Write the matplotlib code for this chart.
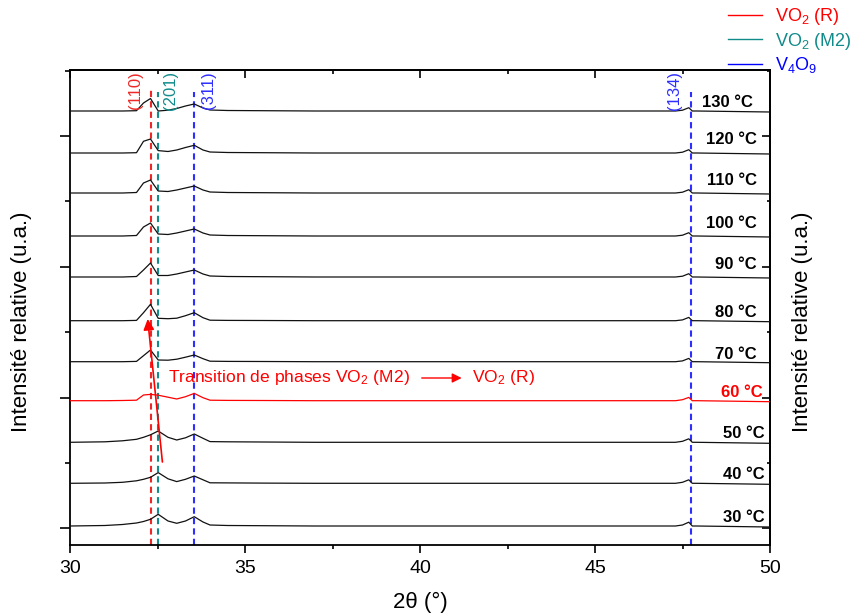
import matplotlib
matplotlib.use('Agg')
import matplotlib.pyplot as plt
from matplotlib.ticker import MultipleLocator, FixedLocator, NullFormatter
from matplotlib.lines import Line2D

plt.rcParams['font.family'] = ['Liberation Sans', 'DejaVu Sans']
plt.rcParams['mathtext.default'] = 'regular'

# ---------------- data ----------------
two_theta = [30.0, 31.0, 31.5, 31.9, 32.1, 32.3, 32.52, 32.8, 33.05, 33.3, 33.55,
             33.8, 34.0, 34.5, 35.5, 37.0, 40.0, 45.0, 47.3, 47.5, 47.68, 47.78, 47.9, 50.0]

temperatures = ["30 °C", "40 °C", "50 °C", "60 °C", "70 °C", "80 °C",
                "90 °C", "100 °C", "110 °C", "120 °C", "130 °C"]
offsets = [19, 61.7, 102.7, 144.3, 183.3, 224.3, 268, 309, 352, 392, 434]

i_30 = [0, 0.5, 1.5, 3.0, 4.5, 6.7, 11.7, 5.0, 2.7, 5.0, 9.3, 4.0, 1.0, 0.5, 0.3, 0, 0, 0, 0, 1.0, 3.8, 0, 0, -1]
i_40 = [0, 0.3, 1.0, 2.5, 4.0, 6.0, 10.7, 4.5, 1.7, 4.0, 7.3, 3.5, 0.5, 0.4, 0.2, 0, 0, 0, 0, 1.0, 3.5, 0, 0, -1]
i_50 = [0, 0.5, 1.5, 3.0, 5.0, 7.5, 11.3, 5.0, 2.3, 4.5, 8.3, 4.0, 0.7, 0.5, 0.3, 0, 0, 0, 0, 1.0, 3.5, 0, 0, -1]
i_60 = [0, 0, 0.2, 0.5, 5.7, 6.3, 5.5, 3.5, 1.7, 4.0, 7.3, 3.0, 0.5, 0.3, 0.2, 0, 0, 0, 0, 1.0, 3.3, 0, 0, -1]
i_70 = [0, 0, 0, 0.3, 6.0, 11.7, 1.7, 1.5, 2.5, 4.5, 6.7, 3.0, 0.5, 0.3, 0.2, 0, 0, 0, 0, 0.8, 3.3, 0, 0, -1]
i_80 = [0, 0, 0, 0.3, 8.0, 16.4, 2.4, 2.0, 2.5, 5.0, 8.0, 3.0, 0.5, 0.3, 0.2, 0, 0, 0, 0, 0.8, 3.3, 0, 0, -1]
i_90 = [0, 0, 0, 0.5, 7.0, 14.0, 1.5, 1.5, 3.0, 5.0, 7.0, 3.0, 1.0, 0.5, 0.3, 0, 0, 0, 0, 0.8, 3.3, 0, 0, -1]
i_100 = [0, 0, 0, 0.5, 9.0, 13.0, 2.0, 1.5, 3.0, 5.0, 7.0, 3.0, 1.0, 0.5, 0.3, 0, 0, 0, 0, 0.8, 3.3, 0, 0, -1]
i_110 = [0, 0, 0, 0.5, 10.0, 13.0, 2.0, 1.5, 3.0, 5.0, 7.0, 3.0, 1.0, 0.5, 0.3, 0, 0, 0, 0, 0.8, 3.3, 0, 0, -1]
i_120 = [0, 0, 0, 0.3, 11.7, 14.0, 2.4, 1.5, 3.0, 5.5, 7.7, 3.0, 1.0, 0.5, 0.3, 0, 0, 0, 0, 0.8, 3.3, 0, 0, -1]
i_130 = [0, 0, 0, 0.3, 8.0, 12.5, 0.0, 0.8, 2.5, 5.0, 7.0, 3.0, 1.0, 0.5, 0.3, 0, 0, 0, 0, 0.8, 3.3, 0, 0, -1]
intensities = [i_30, i_40, i_50, i_60, i_70, i_80, i_90, i_100, i_110, i_120, i_130]

ref_positions = [32.30, 32.52, 33.55, 47.73]
ref_labels = ["(110)", "(201)", "(311)", "(134)"]
ref_phases = ["R", "M2", "V4O9", "V4O9"]
phase_names = {"R": "VO$_2$ (R)", "M2": "VO$_2$ (M2)", "V4O9": "V$_4$O$_9$"}
phase_colors = {"R": "#FF0000", "M2": "#118A8A", "V4O9": "#0000FF"}
dash_colors = {"R": "#EE2828", "M2": "#138C8C", "V4O9": "#2E2EFF"}

ytick_major = [16.7, 147.5, 278.3, 409.1]
ytick_minor = [82.1, 212.9, 343.7, 473.9]

# ---------------- figure ----------------
fig = plt.figure(figsize=(8.53, 6.16), dpi=100)
ax = fig.add_axes([70 / 853, 71 / 616, 700 / 853, 475 / 616])
ax.set_xlim(30, 50)
ax.set_ylim(0, 475)

for lab, off, prof in zip(temperatures, offsets, intensities):
    col = "#FF0000" if lab == "60 °C" else "#111111"
    ax.plot(two_theta, [off + v for v in prof], color=col, lw=0.9, zorder=3)

# reference dashed lines
dash_top = {"R": 458, "M2": 453, "V4O9": 453}
for pos, ph in zip(ref_positions, ref_phases):
    ax.plot([pos, pos], [0, dash_top[ph]], color=dash_colors[ph], lw=1.5,
            linestyle=(0, (3, 2)), zorder=2)

label_x = [31.86, 32.86, 33.97, 47.26]
for lx, txt, ph in zip(label_x, ref_labels, ref_phases):
    ax.text(lx, 474, txt, rotation=90, ha='center', va='top', fontsize=12,
            color=dash_colors[ph])

# temperature labels
label_right = [49.86, 49.86, 49.86, 49.80, 49.63, 49.63, 49.63, 49.63, 49.63, 49.63, 49.51]
label_gap = [4, 4, 4, 4, 3, 4, 8, 8, 8, 9, 4]
for lab, off, xr, gap in zip(temperatures, offsets, label_right, label_gap):
    col = "#FF0000" if lab == "60 °C" else "black"
    ax.text(xr, off + gap, lab, ha='right', va='baseline', fontsize=12,
            fontweight='bold', color=col)

# transition arrow
ax.annotate('', xy=(32.22, 226), xytext=(32.64, 83),
            arrowprops=dict(arrowstyle='-|>', color='red', lw=1.2,
                            mutation_scale=16, shrinkA=0, shrinkB=0), zorder=5)
ax.text(32.8, 163.3, "Transition de phases VO$_2$ (M2)", color='red', fontsize=12.6,
        ha='left', va='baseline')
ax.annotate('', xy=(41.19, 167), xytext=(40.05, 167),
            arrowprops=dict(arrowstyle='-|>', color='red', lw=1.0,
                            mutation_scale=14, shrinkA=0, shrinkB=0))
ax.text(41.48, 163.3, "VO$_2$ (R)", color='red', fontsize=12.6, ha='left', va='baseline')

# axes styling
for sp in ax.spines.values():
    sp.set_linewidth(1.3)
ax.xaxis.set_major_locator(MultipleLocator(5))
ax.xaxis.set_minor_locator(MultipleLocator(2.5))
ax.yaxis.set_major_locator(FixedLocator(ytick_major))
ax.yaxis.set_minor_locator(FixedLocator(ytick_minor))
ax.yaxis.set_major_formatter(NullFormatter())
ax.tick_params(axis='x', which='major', direction='out', length=6, width=1.2,
               labelsize=14, pad=5)
ax.tick_params(axis='x', which='minor', direction='out', length=3, width=1.2)
ax.tick_params(axis='y', which='major', direction='out', length=7, width=1.2)
ax.tick_params(axis='y', which='minor', direction='out', length=3.6, width=1.2)

secy = ax.secondary_yaxis('right')
secy.yaxis.set_major_locator(FixedLocator(ytick_major))
secy.yaxis.set_minor_locator(FixedLocator(ytick_minor))
secy.yaxis.set_major_formatter(NullFormatter())
secy.tick_params(which='major', direction='in', length=6, width=1.2)
secy.tick_params(which='minor', direction='in', length=2.5, width=1.2)
secy.spines['right'].set_linewidth(1.3)

secx = ax.secondary_xaxis('top')
secx.xaxis.set_major_locator(MultipleLocator(5))
secx.xaxis.set_minor_locator(MultipleLocator(2.5))
secx.xaxis.set_major_formatter(NullFormatter())
secx.tick_params(which='major', direction='in', length=6, width=1.2)
secx.tick_params(which='minor', direction='in', length=3, width=1.2)
secx.spines['top'].set_linewidth(1.3)

fig.text(420 / 853, 1 - 602 / 616, "2θ (°)", ha='center', va='center', fontsize=16)
fig.text(22 / 853, 1 - 322 / 616, "Intensité relative (u.a.)", rotation=90,
         ha='center', va='center', fontsize=16)
fig.text(803 / 853, 1 - 322 / 616, "Intensité relative (u.a.)", rotation=90,
         ha='center', va='center', fontsize=16)

# legend
handles = [Line2D([], [], color=phase_colors[k], lw=1.0) for k in ["R", "M2", "V4O9"]]
labels = [phase_names[k] for k in ["R", "M2", "V4O9"]]
fig.legend(handles, labels, loc='upper left', bbox_to_anchor=(728 / 853, 1 - 6 / 616),
           frameon=False, fontsize=13, handlelength=1.9, handletextpad=0.7,
           labelspacing=0.2, borderpad=0, borderaxespad=0,
           labelcolor=[phase_colors[k] for k in ["R", "M2", "V4O9"]])

fig.savefig("out.png", dpi=100)
